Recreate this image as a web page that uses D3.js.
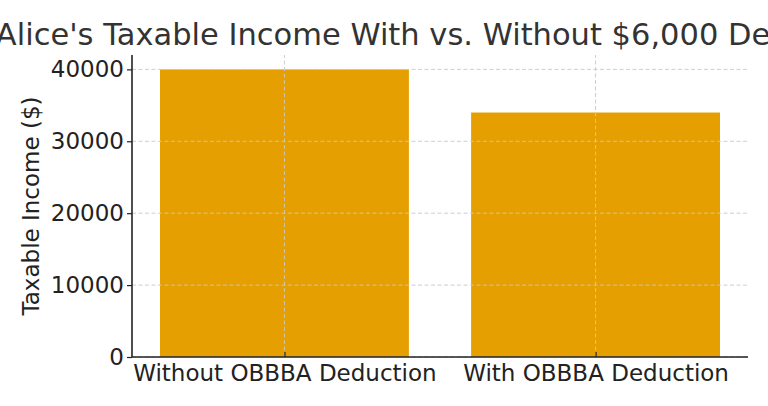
<!DOCTYPE html>
<html><head><meta charset="utf-8">
<script src="https://cdn.jsdelivr.net/npm/d3@7"></script>
<style>body{margin:0;background:#fff;overflow:hidden}svg{display:block}text{font-family:"DejaVu Sans",sans-serif}</style>
</head><body>
<svg id="c" width="768" height="406"></svg>
<script>
const categories = ["Without OBBBA Deduction", "With OBBBA Deduction"];
const values = [40000, 34000];
const yTicks = [0, 10000, 20000, 30000, 40000];
const title = "Alice's Taxable Income With vs. Without $6,000 Deduction";
const yLabel = "Taxable Income ($)";

const svg = d3.select("#c");
const m = {l:132, r:20, t:55, b:49};
const W = 768, H = 406;
const x0 = m.l, x1 = W - m.r, y0 = H - m.b, y1 = m.t;

const x = d3.scaleLinear().domain([-0.49, 1.49]).range([x0, x1]);
const y = d3.scaleLinear().domain([0, 42000]).range([y0, y1]);
const bw = 0.8;

const g = svg.append("g");
g.selectAll(".bar").data(values).join("rect")
  .attr("x", (d,i)=>x(i - bw/2)).attr("width", x(bw) - x(0))
  .attr("y", d=>y(d)).attr("height", d=>y(0)-y(d))
  .attr("fill", "#E69F00");
g.selectAll(".gy").data(yTicks).join("line")
  .attr("x1", x0).attr("x2", x1).attr("y1", d=>y(d)).attr("y2", d=>y(d))
  .attr("stroke", "#c8c8c8").attr("stroke-width", 0.9).attr("stroke-dasharray", "4,2.5");
g.selectAll(".gx").data(categories).join("line")
  .attr("x1", (d,i)=>x(i)).attr("x2", (d,i)=>x(i)).attr("y1", y0).attr("y2", y1)
  .attr("stroke", "#c8c8c8").attr("stroke-width", 0.9).attr("stroke-dasharray", "4,2.5");

const ya = d3.axisLeft(y).tickValues(yTicks).tickSize(5).tickPadding(3).tickFormat(d3.format("d"));
const yg = svg.append("g").attr("transform", `translate(${x0},0)`).call(ya);
yg.select(".domain").attr("stroke", "#222").attr("stroke-width", 1.6).attr("d", `M-0,${y0}V${y1}`);
yg.selectAll(".tick line").attr("stroke", "#222").attr("stroke-width", 1.2);
yg.selectAll(".tick text").attr("font-size", 23).attr("fill", "#222").attr("font-family", "DejaVu Sans");

const xa = d3.axisBottom(x).tickValues([0,1]).tickSize(5).tickPadding(3).tickFormat(i=>categories[i]);
const xg = svg.append("g").attr("transform", `translate(0,${y0})`).call(xa);
xg.select(".domain").attr("stroke", "#222").attr("stroke-width", 1.6).attr("d", `M${x0},0H${x1}`);
xg.selectAll(".tick line").attr("stroke", "#222").attr("stroke-width", 1.2).attr("y1", -5).attr("y2", 0);
xg.selectAll(".tick text").attr("font-size", 23).attr("fill", "#222").attr("font-family", "DejaVu Sans");

svg.append("text").attr("transform", `translate(39,${(y0+y1)/2}) rotate(-90)`)
  .attr("text-anchor", "middle").attr("font-size", 23).attr("fill", "#222").text(yLabel);
svg.append("text").attr("x", (x0+x1)/2).attr("y", 45).attr("text-anchor", "middle")
  .attr("font-size", 30.5).attr("fill", "#333").text(title);
</script>
</body></html>
